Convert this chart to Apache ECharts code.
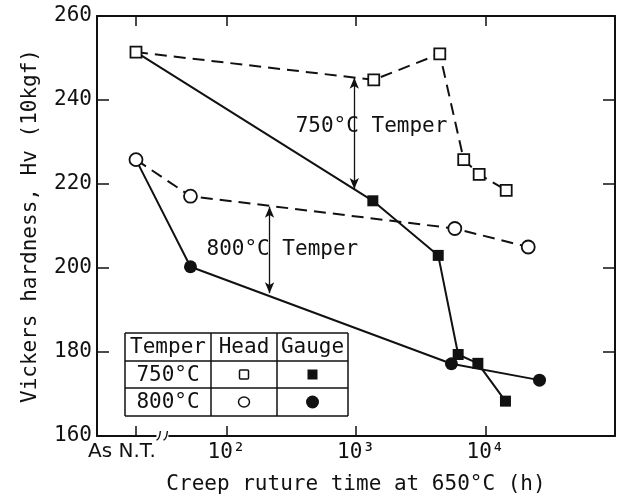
<!DOCTYPE html>
<html><head><meta charset="utf-8">
<script src="https://cdn.jsdelivr.net/npm/echarts@6/dist/echarts.min.js"></script>
<style>html,body{margin:0;padding:0;background:#fff}#c{width:620px;height:500px}</style>
</head><body><div id="c"></div>
<script>
// ---- data (time in hours on a log axis, hardness Hv) ----
const asNT = 20; // plotting position used for the "As N.T." condition
const head750Time  = [asNT, 1371, 4436, 6790, 8935, 14450];
const head750Hv    = [251.4, 244.8, 251.0, 225.8, 222.3, 218.5];
const gauge750Time = [asNT, 1349, 4315, 6150, 8730, 14260];
const gauge750Hv   = [251.4, 216.0, 203.0, 179.4, 177.3, 168.3];
const head800Time  = [asNT, 52.7, 5795, 21380];
const head800Hv    = [225.8, 217.1, 209.4, 205.0];
const gauge800Time = [asNT, 52.7, 5458, 26120];
const gauge800Hv   = [225.8, 200.3, 177.2, 173.3];
const xTicks = [asNT, 100, 1000, 10000];
const xTickLabels = ['As N.T.', '10²', '10³', '10⁴'];
const yMin = 160, yMax = 260, yStep = 20;
// annotation arrows: [time, Hv top, Hv bottom]
const arrow750 = [970, 245.3, 218.8];
const arrow800 = [215, 214.6, 194.0];
const annotTexts = ['750°C Temper', '800°C Temper'];
const annotPos = [[1318, 233.6], [270, 204.4]];
const breakTime = 32;

const FONT = 'DejaVu Sans Mono';
const INK = '#111';
const pairs = (t, v) => t.map((x, i) => [x, v[i]]);
const gaugeData = (t, v) => pairs(t, v).map((p, i) => i === 0 ? {value: p, symbol: 'none'} : {value: p});

const chart = echarts.init(document.getElementById('c'), null, {renderer: 'canvas'});

function xLabel(v) {
  let best = 0, bd = Infinity;
  xTicks.forEach((t, i) => { const d = Math.abs(Math.log10(t) - Math.log10(v)); if (d < bd) { bd = d; best = i; } });
  return best === 0 ? '{nt|' + xTickLabels[0] + '}' : xTickLabels[best];
}

const xBase = {
  type: 'log', logBase: 10, min: 10, max: 100000,
  axisLine: {show: true, lineStyle: {color: INK, width: 2}},
  axisTick: {show: true, inside: true, length: 10, customValues: xTicks, lineStyle: {color: INK, width: 1.5}},
  splitLine: {show: false}, minorTick: {show: false}
};
const yBase = {
  type: 'value', min: yMin, max: yMax, interval: yStep,
  axisLine: {show: true, lineStyle: {color: INK, width: 2}},
  axisTick: {show: true, inside: true, length: 12, lineStyle: {color: INK, width: 1.5}},
  splitLine: {show: false}
};

const option = {
  backgroundColor: '#fff',
  animation: false,
  grid: {left: 97, right: 5, top: 16, bottom: 63, containLabel: false},
  xAxis: [
    Object.assign({}, xBase, {
      position: 'bottom',
      axisLabel: {show: true, customValues: xTicks, formatter: xLabel, color: INK, fontFamily: FONT, fontSize: 21, margin: 6,
        rich: {nt: {fontFamily: 'DejaVu Sans', fontSize: 20, color: INK, padding: [0, 28, 0, 0]}}},
      name: 'Creep ruture time at 650°C (h)', nameLocation: 'middle', nameGap: 38,
      nameTextStyle: {color: INK, fontFamily: FONT, fontSize: 21}
    }),
    Object.assign({}, xBase, {position: 'top', axisLabel: {show: false}})
  ],
  yAxis: [
    Object.assign({}, yBase, {
      position: 'left',
      axisLabel: {color: INK, fontFamily: FONT, fontSize: 21, margin: 5},
      name: 'Vickers hardness, Hv (10kgf)', nameLocation: 'middle', nameGap: 56,
      nameTextStyle: {color: INK, fontFamily: FONT, fontSize: 21}
    }),
    Object.assign({}, yBase, {position: 'right', axisLabel: {show: false}})
  ],
  series: [
    {
      name: '750 gauge', type: 'line', z: 2, data: gaugeData(gauge750Time, gauge750Hv),
      symbol: 'rect', symbolSize: 11, showSymbol: true,
      itemStyle: {color: INK, borderColor: INK, borderWidth: 0},
      lineStyle: {color: INK, width: 2}
    },
    {
      name: '800 gauge', type: 'line', z: 2, data: gaugeData(gauge800Time, gauge800Hv),
      symbol: 'circle', symbolSize: 13,
      itemStyle: {color: INK, borderColor: INK, borderWidth: 0},
      lineStyle: {color: INK, width: 2}
    },
    {
      name: '750 head', type: 'line', z: 3, data: pairs(head750Time, head750Hv),
      symbol: 'rect', symbolSize: 11,
      itemStyle: {color: '#fff', borderColor: INK, borderWidth: 1.8},
      lineStyle: {color: INK, width: 2, type: [12, 7]},
      markLine: {
        silent: true, symbol: ['arrow', 'arrow'], symbolSize: [7, 11], label: {show: false},
        lineStyle: {color: INK, width: 1.3, type: 'solid'},
        data: [
          [{coord: [arrow750[0], arrow750[1]]}, {coord: [arrow750[0], arrow750[2]]}],
          [{coord: [arrow800[0], arrow800[1]]}, {coord: [arrow800[0], arrow800[2]]}]
        ]
      }
    },
    {
      name: '800 head', type: 'line', z: 3, data: pairs(head800Time, head800Hv),
      symbol: 'circle', symbolSize: 13,
      itemStyle: {color: '#fff', borderColor: INK, borderWidth: 1.8},
      lineStyle: {color: INK, width: 2, type: [12, 7]}
    },
    {
      name: 'annot', type: 'scatter', z: 4, silent: true, symbolSize: 0,
      itemStyle: {opacity: 1, color: INK},
      data: annotPos.map((p, i) => ({value: p, name: annotTexts[i]})),
      label: {show: true, position: 'inside', formatter: '{b}', color: INK, opacity: 1, fontFamily: FONT, fontSize: 21}
    }
  ]
};
chart.setOption(option);

function drawExtras() {
  const px = chart.convertToPixel({xAxisIndex: 0}, breakTime);
  const py = chart.convertToPixel({yAxisIndex: 0}, yMin);
  // legend table
  const cols = [125, 211, 277, 348], rows = [333, 361, 388, 416];
  const lines = [];
  cols.forEach(x => lines.push({type: 'line', shape: {x1: x, y1: rows[0], x2: x, y2: rows[3]}, style: {stroke: INK, lineWidth: 1.5}}));
  rows.forEach(y => lines.push({type: 'line', shape: {x1: cols[0], y1: y, x2: cols[3], y2: y}, style: {stroke: INK, lineWidth: 1.5}}));
  const cx = i => (cols[i] + cols[i + 1]) / 2, cy = j => (rows[j] + rows[j + 1]) / 2;
  const txt = (t, x, y) => ({type: 'text', x: x, y: y, style: {text: t, fill: INK, font: '21px "' + FONT + '"', align: 'center', verticalAlign: 'middle'}});
  const table = [
    {type: 'rect', shape: {x: cols[0], y: rows[0], width: cols[3] - cols[0], height: rows[3] - rows[0]}, style: {fill: '#fff'}},
    ...lines,
    txt('Temper', cx(0), cy(0) + 1), txt('Head', cx(1), cy(0) + 1), txt('Gauge', cx(2), cy(0) + 1),
    txt('750°C', cx(0), cy(1) + 1), txt('800°C', cx(0), cy(2) + 1),
    {type: 'rect', shape: {x: cx(1) - 4.5, y: cy(1) - 4.5, width: 9, height: 9, r: 1}, style: {fill: '#fff', stroke: INK, lineWidth: 1.5}},
    {type: 'rect', shape: {x: cx(2) - 5, y: cy(1) - 5, width: 10, height: 10}, style: {fill: INK}},
    {type: 'ellipse', shape: {cx: cx(1), cy: cy(2), rx: 5.5, ry: 5}, style: {fill: '#fff', stroke: INK, lineWidth: 1.5}},
    {type: 'circle', shape: {cx: cx(2), cy: cy(2), r: 6.5}, style: {fill: INK}}
  ];
  const brk = [
    {type: 'rect', shape: {x: px - 6, y: py - 3, width: 12, height: 6}, style: {fill: '#fff'}, z: 100},
    {type: 'bezierCurve', shape: {x1: px - 6, y1: py + 4, x2: px - 2, y2: py - 5, cpx1: px - 3, cpy1: py + 4}, style: {stroke: INK, lineWidth: 1.4, fill: null}, z: 101},
    {type: 'bezierCurve', shape: {x1: px + 1, y1: py + 4, x2: px + 5, y2: py - 5, cpx1: px + 4, cpy1: py + 4}, style: {stroke: INK, lineWidth: 1.4, fill: null}, z: 101}
  ];
  chart.setOption({graphic: [{type: 'group', z: 90, children: table}, {type: 'group', z: 100, children: brk}]});
}
drawExtras();
</script>
</body></html>
